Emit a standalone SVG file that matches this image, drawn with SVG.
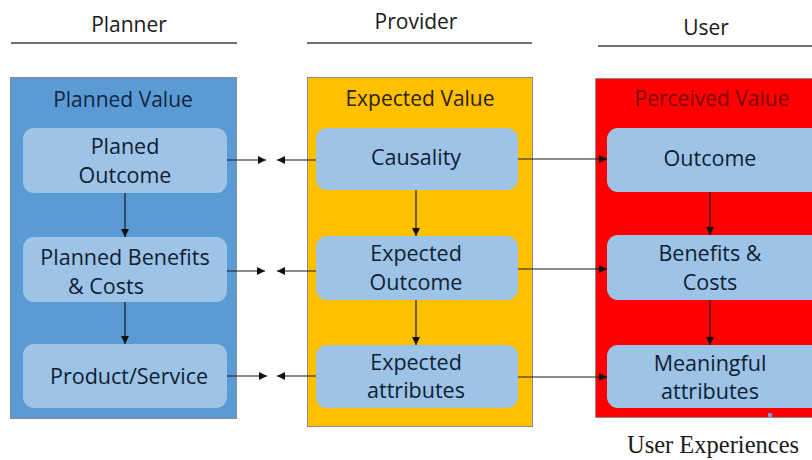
<svg xmlns="http://www.w3.org/2000/svg" width="812" height="460" viewBox="0 0 812 460">
<style>
.hdr{font-family:"Open Sans","Liberation Sans",sans-serif;font-size:21px;fill:#1a1a1a;text-anchor:middle}
.hline{stroke:#404040;stroke-width:1.5}
.panel{stroke:#8c8c8c;stroke-width:1}
.title{font-family:"Open Sans","Liberation Sans",sans-serif;font-size:21px;text-anchor:middle}
.box{fill:#9dc3e6;stroke:none}
.t{font-family:"Open Sans","Liberation Sans",sans-serif;font-size:21.5px;fill:#0f1e33;text-anchor:middle}
.conn{stroke:#1a1a1a;stroke-width:1.2;fill:none}
</style>
<defs>
<marker id="ah" viewBox="0 0 10 10" refX="10" refY="5" markerWidth="9" markerHeight="8" markerUnits="userSpaceOnUse" orient="auto">
<path d="M0,0 L10,5 L0,10 z" fill="#111"/>
</marker>
</defs>
<rect width="812" height="460" fill="#ffffff"/>

<g id="headers">
<text class="hdr" x="129" y="32">Planner</text>
<line class="hline" x1="11" y1="43" x2="237" y2="43"/>
<text class="hdr" x="416" y="29">Provider</text>
<line class="hline" x1="307" y1="43" x2="532" y2="43"/>
<text class="hdr" x="706" y="35">User</text>
<line class="hline" x1="598" y1="46" x2="812" y2="46"/>
</g>

<g id="planned-value">
<rect class="panel" x="10.5" y="77.5" width="226" height="341" fill="#5b9bd5"/>
<text class="title" x="123" y="107" fill="#14243f">Planned Value</text>
</g>
<g id="planed-outcome">
<rect class="box" x="23" y="128" width="204" height="65" rx="11"/>
<text class="t" x="125" y="154">Planed</text>
<text class="t" x="125" y="183">Outcome</text>
</g>
<g id="planned-benefits">
<rect class="box" x="23" y="237" width="204" height="65" rx="11"/>
<text class="t" x="125" y="265">Planned Benefits</text>
<text class="t" x="68" y="294" style="text-anchor:start">&amp; Costs</text>
</g>
<g id="product-service">
<rect class="box" x="23" y="344" width="204" height="64" rx="11"/>
<text class="t" x="129" y="384">Product/Service</text>
</g>

<g id="expected-value">
<rect class="panel" x="307.5" y="77.5" width="225" height="349" fill="#ffc000"/>
<text class="title" x="420" y="106" fill="#2a2200">Expected Value</text>
</g>
<g id="causality">
<rect class="box" x="316" y="128" width="202" height="62" rx="11"/>
<text class="t" x="416" y="165">Causality</text>
</g>
<g id="expected-outcome">
<rect class="box" x="316" y="236" width="202" height="64" rx="11"/>
<text class="t" x="416" y="261">Expected</text>
<text class="t" x="416" y="290">Outcome</text>
</g>
<g id="expected-attributes">
<rect class="box" x="316" y="345" width="202" height="63" rx="11"/>
<text class="t" x="416" y="370">Expected</text>
<text class="t" x="416" y="398">attributes</text>
</g>

<g id="perceived-value">
<rect class="panel" x="595.5" y="78.5" width="230" height="339" fill="#ff0000"/>
<text class="title" x="712" y="106" fill="#7a0000">Perceived Value</text>
</g>
<g id="outcome">
<rect class="box" x="607" y="128" width="220" height="64" rx="11"/>
<text class="t" x="710" y="166">Outcome</text>
</g>
<g id="benefits-costs">
<rect class="box" x="607" y="235" width="220" height="65" rx="11"/>
<text class="t" x="710" y="261">Benefits &amp;</text>
<text class="t" x="710" y="290">Costs</text>
</g>
<g id="meaningful-attributes">
<rect class="box" x="607" y="345" width="220" height="63" rx="11"/>
<text class="t" x="710" y="371">Meaningful</text>
<text class="t" x="710" y="399">attributes</text>
<circle cx="770" cy="415" r="2.2" fill="#7f9fd0"/>
</g>

<g id="connectors">
<line class="conn" x1="125" y1="193" x2="125" y2="237" marker-end="url(#ah)"/>
<line class="conn" x1="125" y1="302" x2="125" y2="344" marker-end="url(#ah)"/>
<line class="conn" x1="416" y1="190" x2="416" y2="236" marker-end="url(#ah)"/>
<line class="conn" x1="416" y1="300" x2="416" y2="345" marker-end="url(#ah)"/>
<line class="conn" x1="710" y1="192" x2="710" y2="235" marker-end="url(#ah)"/>
<line class="conn" x1="710" y1="300" x2="710" y2="345" marker-end="url(#ah)"/>

<line class="conn" x1="227" y1="160" x2="266" y2="160" marker-end="url(#ah)"/>
<line class="conn" x1="316" y1="160" x2="277" y2="160" marker-end="url(#ah)"/>
<line class="conn" x1="227" y1="271" x2="265" y2="271" marker-end="url(#ah)"/>
<line class="conn" x1="316" y1="271" x2="277" y2="271" marker-end="url(#ah)"/>
<line class="conn" x1="227" y1="376" x2="267" y2="376" marker-end="url(#ah)"/>
<line class="conn" x1="316" y1="376" x2="277" y2="376" marker-end="url(#ah)"/>

<line class="conn" x1="518" y1="159" x2="607" y2="159" marker-end="url(#ah)"/>
<line class="conn" x1="518" y1="269" x2="607" y2="269" marker-end="url(#ah)"/>
<line class="conn" x1="518" y1="377" x2="607" y2="377" marker-end="url(#ah)"/>
</g>

<g id="caption">
<text x="713" y="453" style="font-family:'Liberation Serif','Times New Roman',serif;font-size:24.5px;fill:#1a1a1a;text-anchor:middle">User Experiences</text>
</g>
</svg>
